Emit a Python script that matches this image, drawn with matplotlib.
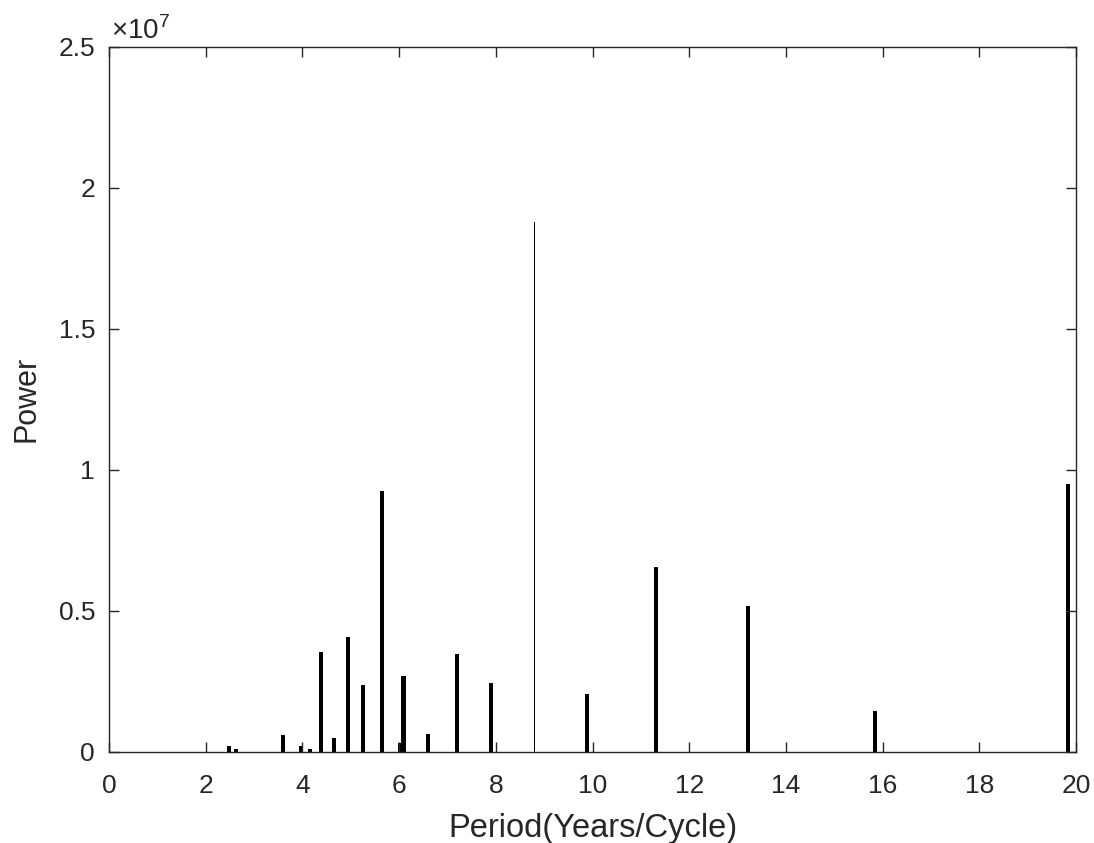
import matplotlib
matplotlib.use("Agg")
import matplotlib.pyplot as plt

plt.rcParams['font.family'] = ['Liberation Sans', 'DejaVu Sans']
plt.rcParams['mathtext.fontset'] = 'custom'
plt.rcParams['mathtext.rm'] = 'Liberation Sans'

# Data (period in years/cycle, power)
periods = [2.49, 2.63, 3.59, 3.97, 4.15, 4.39, 4.66, 4.94, 5.26, 5.64,
           6.02, 6.09, 6.60, 7.20, 7.90, 8.80, 9.89, 11.32, 13.22, 15.85, 19.83]
power = [0.19e6, 0.10e6, 0.60e6, 0.20e6, 0.10e6, 3.55e6, 0.47e6, 4.05e6, 2.37e6, 9.25e6,
         0.30e6, 2.67e6, 0.61e6, 3.47e6, 2.43e6, 18.8e6, 2.05e6, 6.55e6, 5.17e6, 1.43e6, 9.51e6]
bar_widths = [0.085, 0.085, 0.085, 0.085, 0.085, 0.085, 0.085, 0.085, 0.085, 0.085,
              0.085, 0.085, 0.085, 0.085, 0.085, 0.04, 0.085, 0.085, 0.085, 0.085, 0.085]
xticks = list(range(0, 21, 2))
yticks = [0, 0.5e7, 1e7, 1.5e7, 2e7, 2.5e7]
ytick_labels = ['0', '0.5', '1', '1.5', '2', '2.5']

axis_color = '#262626'

fig = plt.figure(figsize=(10.94, 8.43), dpi=100)
ax = fig.add_axes([109/1094, 1 - 751.7/843, (1076 - 109)/1094, (751.7 - 46.7)/843])

ax.bar(periods, power, width=bar_widths, color='black', edgecolor='none', align='center')

ax.set_xlim(0, 20)
ax.set_ylim(0, 2.5e7)
ax.set_xticks(xticks)
ax.set_xticklabels([str(t) for t in xticks])
ax.set_yticks(yticks)
ax.set_yticklabels(ytick_labels)

ax.tick_params(direction='in', length=7, width=1, colors=axis_color,
               labelsize=19, top=True, right=True)
ax.tick_params(axis='x', pad=16)
ax.tick_params(axis='y', pad=10)
for s in ax.spines.values():
    s.set_color(axis_color)
    s.set_linewidth(1)

ax.set_xlabel('Period(Years/Cycle)', fontsize=23.5, color=axis_color, labelpad=11)
ax.set_ylabel('Power', fontsize=22, color=axis_color, labelpad=12)

ax.text(0.002, 1.003, r'$\times10^{7}$', transform=ax.transAxes, fontsize=20,
        color=axis_color, ha='left', va='bottom')

fig.savefig('out.png', dpi=100, facecolor='white')
